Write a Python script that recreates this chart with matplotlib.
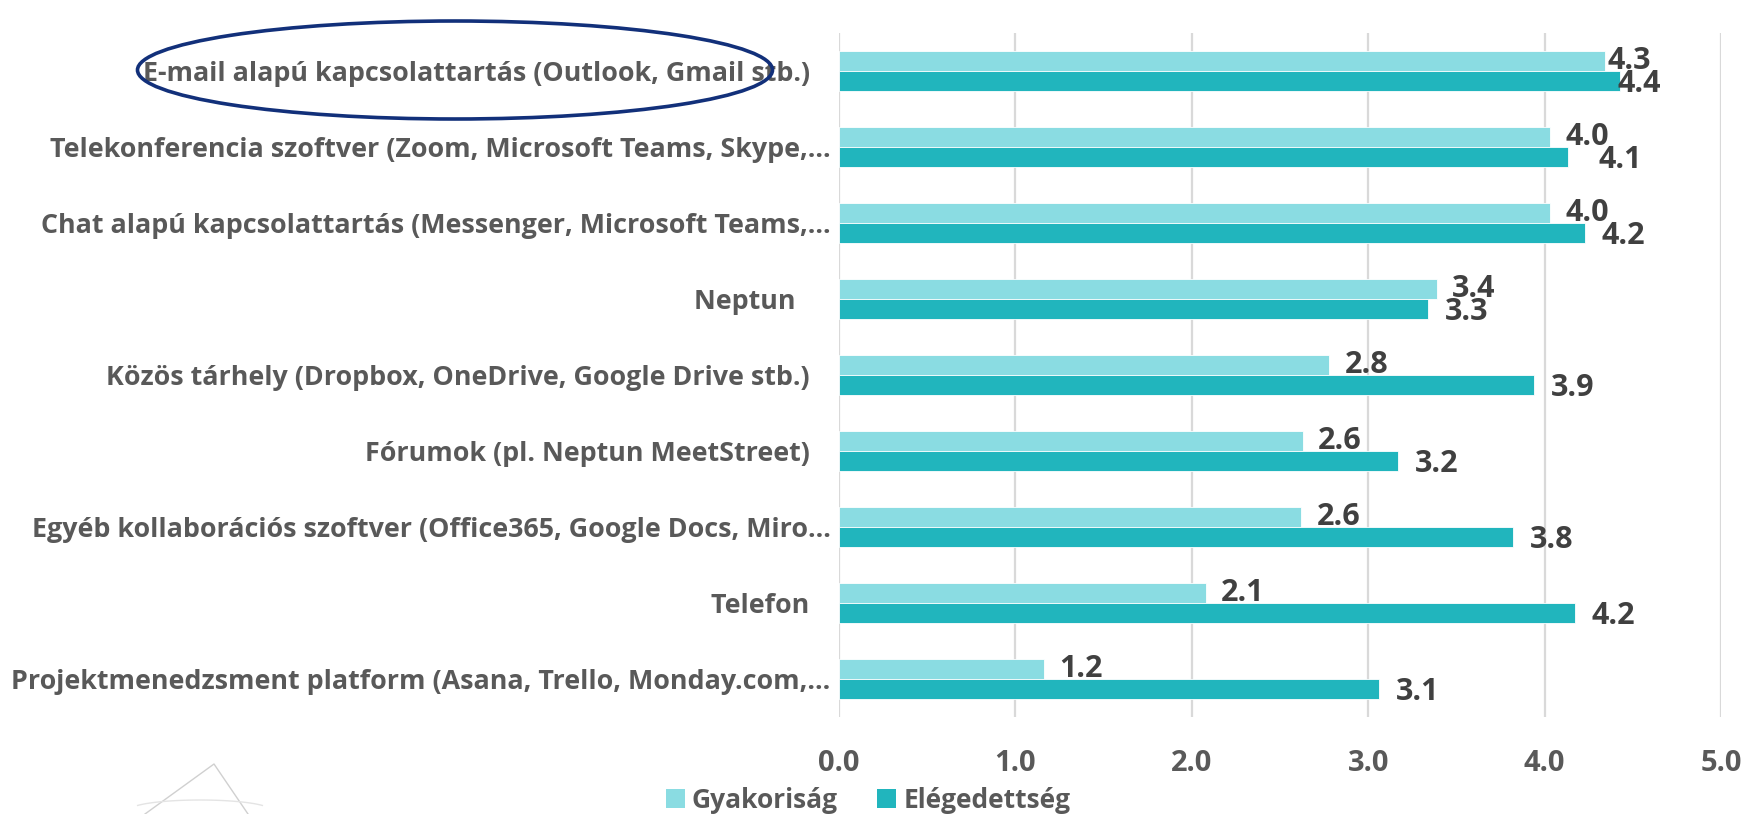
import matplotlib
matplotlib.use("Agg")
import matplotlib.pyplot as plt
from matplotlib.patches import Ellipse, Patch
from matplotlib.lines import Line2D
import numpy as np

plt.rcParams['font.family'] = ['Open Sans', 'DejaVu Sans']
plt.rcParams['font.weight'] = 'bold'

categories = [
    "E-mail alapú kapcsolattartás (Outlook, Gmail stb.)   ",
    "Telekonferencia szoftver (Zoom, Microsoft Teams, Skype,…",
    "Chat alapú kapcsolattartás (Messenger, Microsoft Teams,…",
    "Neptun     ",
    "Közös tárhely (Dropbox, OneDrive, Google Drive stb.)   ",
    "Fórumok (pl. Neptun MeetStreet)   ",
    "Egyéb kollaborációs szoftver (Office365, Google Docs, Miro…",
    "Telefon   ",
    "Projektmenedzsment platform (Asana, Trello, Monday.com,…",
]
gyakorisag = [4.34, 4.03, 4.03, 3.39, 2.78, 2.63, 2.62, 2.08, 1.16]
elegedettseg = [4.43, 4.13, 4.23, 3.34, 3.94, 3.17, 3.82, 4.17, 3.06]
series_names = ["Gyakoriság", "Elégedettség"]
x_ticks = [0.0, 1.0, 2.0, 3.0, 4.0, 5.0]

c_light = "#8ADCE2"
c_dark = "#21B5BD"
txt_gray = "#595959"
val_gray = "#404040"
FS = 19.4

fig = plt.figure(figsize=(17.46, 8.14), dpi=100)
W, H = 1746, 814
ax = fig.add_axes([839 / W, 1 - 717 / H, (1721 - 839) / W, (717 - 33) / H])

y = np.arange(len(categories))
bh = 0.267
ax.barh(y - bh / 2, gyakorisag, height=bh, color=c_light, edgecolor="white", linewidth=0.6, zorder=3)
ax.barh(y + bh / 2, elegedettseg, height=bh, color=c_dark, edgecolor="white", linewidth=0.6, zorder=3)

ax.set_xlim(0, 5)
ax.set_ylim(len(categories) - 0.5, -0.5)
ax.set_xticks(x_ticks)
ax.set_xticklabels([f"{t:.1f}" for t in x_ticks], fontsize=21, color=txt_gray, fontweight='bold')
ax.set_yticks(y)
ax.set_yticklabels(categories, fontsize=FS, color=txt_gray, fontweight='bold')
ax.tick_params(axis='y', length=0, pad=6)
ax.tick_params(axis='x', length=0, pad=23)
ax.grid(axis='x', color="#D9D9D9", linewidth=1.6, zorder=0)
for s in ax.spines.values():
    s.set_visible(False)
ax.set_axisbelow(True)

# value labels (small nudges mimic the original label placement)
nudge_g = {0: -9}
nudge_e = {0: -14, 1: 10}
for i, v in enumerate(gyakorisag):
    ax.annotate(f"{v:.1f}", (v, i - bh / 2), xytext=(11 + nudge_g.get(i, 0), 0),
                textcoords="offset points", va="center", ha="left",
                fontsize=22, fontweight='bold', color=val_gray, zorder=5)
for i, v in enumerate(elegedettseg):
    ax.annotate(f"{v:.1f}", (v, i + bh / 2), xytext=(12 + nudge_e.get(i, 0), -2),
                textcoords="offset points", va="center", ha="left",
                fontsize=22, fontweight='bold', color=val_gray, zorder=5)

# legend
handles = [Patch(facecolor=c_light, edgecolor='none'), Patch(facecolor=c_dark, edgecolor='none')]
fig.legend(handles, series_names, loc="center", bbox_to_anchor=(868 / W, 1 - 800 / H),
           ncol=2, frameon=False, handlelength=0.72, handleheight=0.72,
           handletextpad=0.27, columnspacing=1.5, labelcolor=txt_gray,
           prop={'weight': 'bold', 'size': 19})

# ellipse highlight around the first label
ell = Ellipse((455 / W, 1 - 70 / H), 635 / W, 98 / H, transform=fig.transFigure,
              fill=False, edgecolor="#12307A", linewidth=2.6, zorder=10)
fig.add_artist(ell)

# faint watermark fragment bottom-left
fig.add_artist(Line2D([145 / W, 214 / W, 248 / W], [0.0, 1 - 764 / H, 0.0],
                      transform=fig.transFigure, color="#D0D0D0", linewidth=1.0))
th = np.linspace(0.15, 0.85, 40) * np.pi
fig.add_artist(Line2D((200 + 70 * np.cos(th)) / W, (1 - 800 / H) + (10 * np.sin(th) - 10) / H,
                      transform=fig.transFigure, color="#E4E4E4", linewidth=1.0))

fig.savefig("out.png", dpi=100, facecolor="white")
